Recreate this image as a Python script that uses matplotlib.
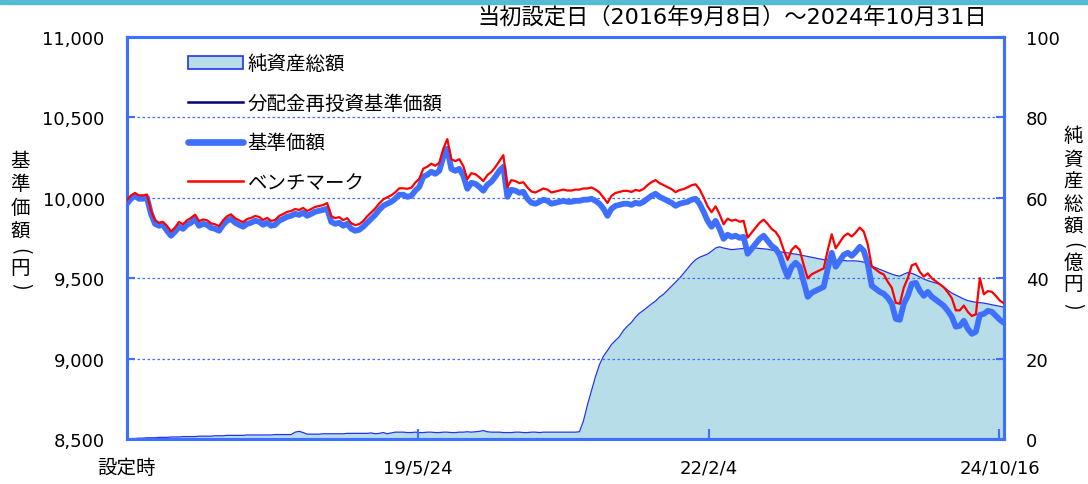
import numpy as np
import pandas as pd
import matplotlib
matplotlib.use("Agg")
import matplotlib.pyplot as plt
from matplotlib.patches import Patch, Rectangle
from matplotlib.lines import Line2D

plt.rcParams['font.family'] = ['DejaVu Sans', 'Noto Sans CJK JP']

# 基準価額（円）- 設定日から2024/10/31まで等間隔
kijun = [
    9963, 9994, 10012, 9994, 9994, 10000, 9900, 9838, 9826, 9832,
    9795, 9764, 9789, 9820, 9807, 9832, 9845, 9869, 9826, 9838,
    9832, 9813, 9807, 9795, 9832, 9857, 9869, 9845, 9832, 9820,
    9838, 9845, 9857, 9851, 9832, 9845, 9826, 9832, 9857, 9869,
    9882, 9888, 9900, 9894, 9907, 9888, 9900, 9913, 9919, 9925,
    9932, 9851, 9838, 9845, 9826, 9838, 9807, 9795, 9801, 9820,
    9845, 9869, 9894, 9925, 9950, 9963, 9975, 9994, 10019, 10019,
    10006, 10012, 10044, 10068, 10131, 10143, 10162, 10149, 10168, 10255,
    10305, 10180, 10168, 10180, 10137, 10056, 10093, 10087, 10068, 10044,
    10081, 10100, 10131, 10168, 10193, 10006, 10050, 10044, 10031, 10037,
    9994, 9969, 9963, 9975, 9988, 9981, 9963, 9969, 9975, 9981,
    9975, 9975, 9981, 9981, 9988, 9988, 9994, 9981, 9963, 9932,
    9888, 9932, 9950, 9956, 9963, 9963, 9956, 9969, 9963, 9975,
    9994, 10012, 10025, 10006, 9994, 9981, 9969, 9950, 9963, 9969,
    9975, 9988, 9994, 9963, 9913, 9857, 9820, 9857, 9807, 9745,
    9770, 9757, 9764, 9751, 9757, 9652, 9683, 9714, 9745, 9764,
    9733, 9701, 9683, 9645, 9571, 9509, 9571, 9596, 9571, 9478,
    9384, 9409, 9422, 9434, 9446, 9558, 9658, 9571, 9608, 9645,
    9658, 9639, 9664, 9695, 9670, 9590, 9453, 9434, 9415, 9403,
    9378, 9341, 9247, 9241, 9341, 9390, 9465, 9471, 9422, 9390,
    9415, 9384, 9366, 9347, 9328, 9297, 9260, 9198, 9204, 9235,
    9185, 9154, 9167, 9272, 9278, 9297, 9291, 9266, 9241, 9223,
]

# 分配金再投資基準価額（分配なしのため基準価額と同じ）
saitoushi = list(kijun)

# ベンチマーク
bench = [
    9985, 10015, 10030, 10015, 10015, 10020, 9920, 9860, 9845, 9850,
    9825, 9790, 9815, 9850, 9835, 9860, 9875, 9895, 9855, 9865,
    9860, 9841, 9835, 9823, 9860, 9885, 9897, 9873, 9860, 9848,
    9868, 9875, 9887, 9881, 9862, 9875, 9856, 9862, 9887, 9899,
    9912, 9918, 9930, 9924, 9937, 9918, 9930, 9943, 9949, 9955,
    9967, 9886, 9873, 9880, 9861, 9873, 9842, 9830, 9836, 9855,
    9885, 9909, 9934, 9965, 9990, 10003, 10015, 10034, 10059, 10059,
    10056, 10062, 10094, 10118, 10181, 10193, 10212, 10199, 10218, 10305,
    10365, 10240, 10228, 10240, 10197, 10116, 10153, 10147, 10128, 10104,
    10141, 10160, 10191, 10228, 10265, 10066, 10110, 10104, 10091, 10097,
    10064, 10039, 10033, 10045, 10058, 10051, 10033, 10039, 10045, 10051,
    10045, 10045, 10051, 10051, 10058, 10058, 10064, 10051, 10033, 10002,
    9968, 10012, 10030, 10036, 10043, 10043, 10036, 10049, 10043, 10055,
    10079, 10097, 10110, 10091, 10079, 10066, 10054, 10035, 10048, 10054,
    10065, 10078, 10084, 10053, 10003, 9947, 9910, 9947, 9897, 9835,
    9870, 9857, 9864, 9851, 9857, 9752, 9783, 9814, 9845, 9864,
    9838, 9806, 9788, 9750, 9676, 9614, 9676, 9701, 9676, 9583,
    9499, 9524, 9537, 9549, 9561, 9673, 9773, 9686, 9723, 9760,
    9778, 9759, 9784, 9815, 9790, 9710, 9573, 9554, 9535, 9523,
    9478, 9441, 9347, 9341, 9441, 9500, 9580, 9590, 9540, 9510,
    9530, 9499, 9481, 9462, 9443, 9412, 9375, 9300, 9300, 9330,
    9290, 9265, 9275, 9500, 9400, 9420, 9415, 9390, 9360, 9345,
]

# 純資産総額（億円）
junshisan = [
    0.0, 0.1, 0.1, 0.2, 0.2, 0.3, 0.3, 0.3, 0.4, 0.4,
    0.4, 0.5, 0.5, 0.5, 0.6, 0.6, 0.6, 0.6, 0.7, 0.7,
    0.7, 0.7, 0.8, 0.8, 0.8, 0.9, 0.9, 0.9, 0.9, 0.9,
    1.0, 1.0, 1.0, 1.0, 1.0, 1.0, 1.0, 1.1, 1.1, 1.1,
    1.1, 1.1, 1.7, 1.9, 1.6, 1.2, 1.2, 1.2, 1.2, 1.3,
    1.3, 1.3, 1.3, 1.3, 1.3, 1.4, 1.4, 1.4, 1.4, 1.4,
    1.4, 1.5, 1.3, 1.4, 1.6, 1.3, 1.5, 1.7, 1.7, 1.7,
    1.6, 1.6, 1.7, 1.6, 1.6, 1.7, 1.7, 1.6, 1.6, 1.7,
    1.7, 1.6, 1.6, 1.7, 1.7, 1.8, 1.7, 1.8, 1.9, 2.1,
    1.8, 1.7, 1.7, 1.7, 1.6, 1.6, 1.6, 1.7, 1.7, 1.6,
    1.6, 1.7, 1.7, 1.6, 1.7, 1.7, 1.7, 1.7, 1.7, 1.7,
    1.7, 1.7, 1.7, 1.8, 4.5, 8.5, 12.0, 15.5, 18.5, 20.6,
    22.0, 23.5, 24.5, 25.5, 27.0, 28.1, 29.0, 30.3, 31.3, 32.0,
    32.8, 33.6, 34.3, 35.3, 36.0, 37.0, 38.0, 39.0, 40.0, 41.2,
    42.4, 43.6, 44.6, 45.2, 45.6, 46.0, 46.7, 47.5, 47.8, 47.5,
    47.3, 47.1, 47.2, 47.3, 47.4, 47.5, 47.6, 47.5, 47.4, 47.3,
    47.2, 47.0, 46.8, 46.6, 46.4, 46.3, 46.1, 46.0, 45.8, 45.6,
    45.4, 45.2, 45.0, 44.8, 44.6, 44.5, 44.5, 44.4, 44.4, 44.4,
    44.3, 44.3, 44.3, 44.2, 44.0, 43.5, 43.0, 42.6, 42.2, 41.8,
    41.4, 41.0, 40.7, 40.5, 41.0, 41.4, 41.2, 40.8, 40.3, 39.8,
    39.4, 39.1, 38.8, 38.5, 37.8, 37.0, 36.3, 35.8, 35.3, 34.8,
    34.4, 34.2, 34.0, 33.9, 33.8, 33.6, 33.4, 33.2, 33.0, 32.8,
]

start_date = "2016-09-08"
end_date = "2024-10-31"
tick_dates = ["2016-09-08", "2019-05-24", "2022-02-04", "2024-10-16"]
tick_labels = ["設定時", "19/5/24", "22/2/4", "24/10/16"]

dates = pd.date_range(start_date, end_date, periods=len(kijun))

blue = "#3F6FFF"
fig = plt.figure(figsize=(10.88, 4.85), dpi=100)
fig.patches.append(Rectangle((0, 0.99), 1, 0.01, transform=fig.transFigure,
                             color="#55BBD5", zorder=0))

ax = fig.add_axes([0.1167, 0.0928, 0.806, 0.8289])
ax2 = ax.twinx()
ax.set_zorder(ax2.get_zorder() + 1)
ax.patch.set_visible(False)

# 純資産総額（右軸）
ax2.fill_between(dates, junshisan, 0, color="#B7DDE8", lw=0)
ax2.plot(dates, junshisan, color="#2233EE", lw=0.9)
ax2.set_ylim(0, 100)
ax2.set_yticks([0, 20, 40, 60, 80, 100])

# 基準価額等（左軸）
ax.plot(dates, saitoushi, color="#000080", lw=1.0, zorder=2)
ax.plot(dates, kijun, color=blue, lw=4.2, zorder=3, solid_capstyle="round")
ax.plot(dates, bench, color="#FF0000", lw=1.6, zorder=4)
ax.set_ylim(8500, 11000)
ax.set_yticks([8500, 9000, 9500, 10000, 10500, 11000])
ax.set_yticklabels(["8,500", "9,000", "9,500", "10,000", "10,500", "11,000"])
ax.set_xlim(pd.Timestamp(start_date), pd.Timestamp(end_date))
ax.set_xticks(pd.to_datetime(tick_dates))
ax.set_xticklabels(tick_labels)

for y in [9000, 9500, 10000, 10500]:
    ax.axhline(y, color=blue, lw=0.9, ls=(0, (2, 2)), zorder=1)

for a in (ax, ax2):
    for s in a.spines.values():
        s.set_color(blue)
        s.set_linewidth(2.2)
ax.tick_params(axis="y", direction="in", length=6, width=1.5, color=blue,
               labelsize=13, pad=16)
ax.tick_params(axis="x", direction="in", length=7, width=1.5, color=blue,
               labelsize=13, pad=14)
ax2.tick_params(axis="y", direction="in", length=6, width=1.5, color=blue,
                labelsize=13, pad=16)

ax.get_xticklabels()[0].set_fontsize(14)

handles = [
    Patch(facecolor="#B7DDE8", edgecolor="#2233EE", lw=1.2),
    Line2D([], [], color="#000080", lw=1.8),
    Line2D([], [], color=blue, lw=4.8, solid_capstyle="round"),
    Line2D([], [], color="#FF0000", lw=1.8),
]
labels = ["純資産総額", "分配金再投資基準価額", "基準価額", "ベンチマーク"]
ax.legend(handles, labels, loc="upper left", bbox_to_anchor=(0.05, 1.0),
          frameon=False, fontsize=14, handlelength=2.8, handleheight=0.6,
          labelspacing=1.05, handletextpad=0.25)

fig.text(0.673, 0.965, "当初設定日（2016年9月8日）～2024年10月31日",
         ha="center", va="center", fontsize=16)


def vertical_label(x, chars, ys):
    # 縦書きラベル、括弧は90度回転
    for ch, y in zip(chars, ys):
        rot = -90 if ch in "()" else 0
        fig.text(x / 1088, 1 - y / 485, ch, ha="center", va="center",
                 rotation=rot, fontsize=14, family=["Noto Sans CJK JP"])


vertical_label(20, "基準価額(円)", [162, 185, 208, 232, 251, 268, 286])
vertical_label(1073, "純資産総額(億円)", [137, 160, 182, 205, 227, 245, 263, 285, 306])

fig.savefig("out.png", dpi=100)
